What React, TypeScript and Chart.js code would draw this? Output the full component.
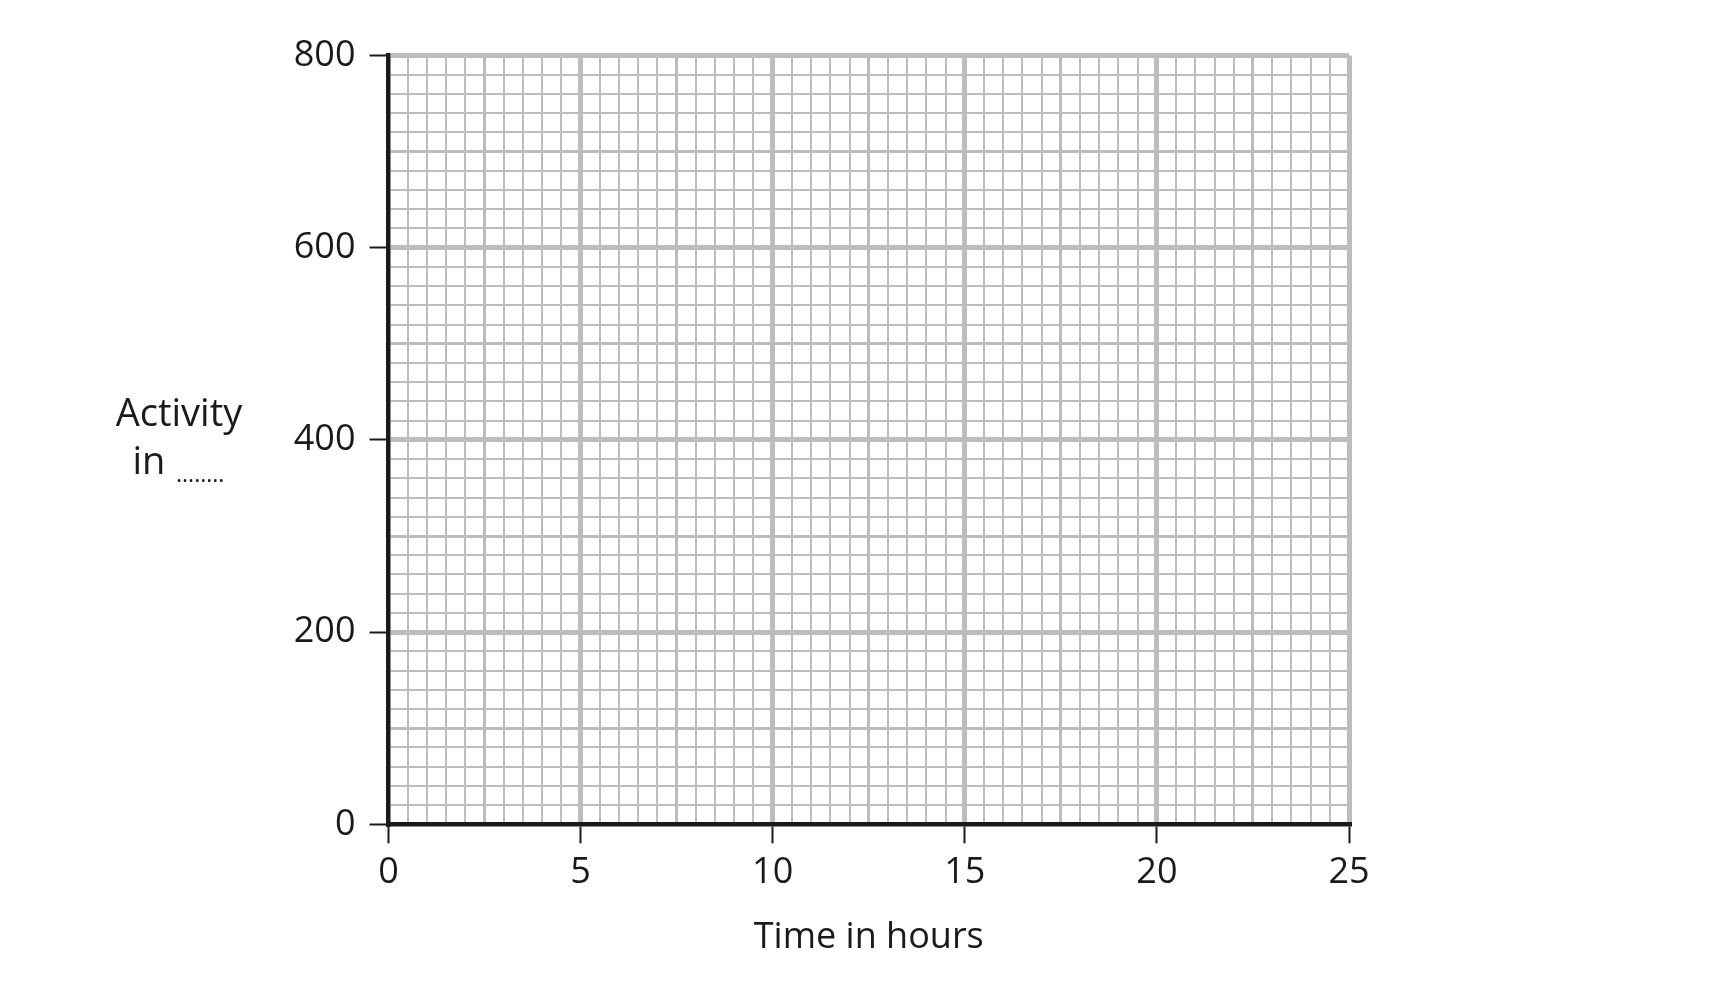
import React, { useEffect, useRef } from "react";
import { Chart, registerables } from "chart.js";

Chart.register(...registerables);

// ---- data / axis definitions ----
const X_MIN = 0;
const X_MAX = 25;
const X_MINOR_STEP = 0.5;
const X_MEDIUM_EVERY = 2.5;
const X_LABEL_EVERY = 5;

const Y_MIN = 0;
const Y_MAX = 800;
const Y_MINOR_STEP = 20;
const Y_MEDIUM_EVERY = 100;
const Y_LABEL_EVERY = 200;

const X_TITLE = "Time in hours";
const Y_TITLE_LINES = ["Activity", "in"];
const Y_TITLE_BLANK = "........";

// no plotted series: blank graph paper
const SERIES_POINTS: { x: number; y: number }[] = [];

// ---- styles ----
const FONT = "'Open Sans', 'Noto Sans', sans-serif";
const INK = "#1a1a1a";
const GRID = "#bdbdbd";

const isMult = (v: number, m: number) => Math.abs(v / m - Math.round(v / m)) < 1e-6;

const yTitlePlugin = {
  id: "yTitleHorizontal",
  afterDraw(chart: any) {
    const { ctx, chartArea, scales } = chart;
    const mid = scales.y.getPixelForValue(400);
    ctx.save();
    ctx.fillStyle = INK;
    ctx.textBaseline = "alphabetic";
    ctx.font = `38px ${FONT}`;
    ctx.textAlign = "center";
    ctx.fillText(Y_TITLE_LINES[0], chartArea.left - 209.5, mid - 14);
    ctx.textAlign = "left";
    ctx.fillText(Y_TITLE_LINES[1], chartArea.left - 256, mid + 34);
    ctx.font = `23px ${FONT}`;
    ctx.fillText(Y_TITLE_BLANK, chartArea.left - 212.5, mid + 42);
    ctx.restore();
  },
};

export default function App() {
  const canvasRef = useRef<HTMLCanvasElement | null>(null);

  useEffect(() => {
    const canvas = canvasRef.current;
    if (!canvas) return;
    const chart = new Chart(canvas, {
      type: "scatter",
      data: {
        datasets: [
          {
            data: SERIES_POINTS,
            pointRadius: 0,
            borderColor: INK,
            backgroundColor: INK,
          },
        ],
      },
      plugins: [yTitlePlugin],
      options: {
        animation: false,
        responsive: false,
        maintainAspectRatio: false,
        events: [],
        layout: { padding: { left: 0, top: 55.5, right: 379, bottom: 0 } },
        plugins: {
          legend: { display: false },
          tooltip: { enabled: false },
          title: { display: false },
        },
        scales: {
          x: {
            type: "linear",
            position: "bottom",
            min: X_MIN,
            max: X_MAX,
            afterFit: (s: any) => {
              s.height = 163.7;
            },
            ticks: {
              stepSize: X_MINOR_STEP,
              autoSkip: false,
              maxRotation: 0,
              minRotation: 0,
              padding: 8,
              color: INK,
              font: { family: FONT, size: 36 },
              callback: (v: any) => (isMult(Number(v), X_LABEL_EVERY) ? String(v) : ""),
            },
            grid: {
              color: (c: any) => (c.tick && c.tick.value === X_MIN ? "transparent" : GRID),
              lineWidth: (c: any) => {
                const v = c.tick ? c.tick.value : 0;
                if (isMult(v, X_LABEL_EVERY)) return 5;
                if (isMult(v, X_MEDIUM_EVERY)) return 3;
                return 2;
              },
              tickLength: 19,
              tickWidth: 2,
              tickColor: (c: any) => (c.tick && isMult(c.tick.value, X_LABEL_EVERY) ? INK : "transparent"),
            },
            border: { display: true, color: INK, width: 4.5 },
            title: {
              display: true,
              text: X_TITLE,
              color: INK,
              font: { family: FONT, size: 36 },
              padding: { top: 0, bottom: 29 },
            },
          },
          y: {
            type: "linear",
            position: "left",
            min: Y_MIN,
            max: Y_MAX,
            afterFit: (s: any) => {
              s.width = 388.5;
            },
            ticks: {
              stepSize: Y_MINOR_STEP,
              autoSkip: false,
              padding: 14,
              color: INK,
              font: { family: FONT, size: 36 },
              callback: (v: any) => (isMult(Number(v), Y_LABEL_EVERY) ? String(v) : ""),
            },
            grid: {
              color: (c: any) => (c.tick && c.tick.value === Y_MIN ? "transparent" : GRID),
              lineWidth: (c: any) => {
                const v = c.tick ? c.tick.value : 0;
                if (isMult(v, Y_LABEL_EVERY)) return 5;
                if (isMult(v, Y_MEDIUM_EVERY)) return 3;
                return 2;
              },
              tickLength: 19,
              tickWidth: 2,
              tickColor: (c: any) => (c.tick && isMult(c.tick.value, Y_LABEL_EVERY) ? INK : "transparent"),
            },
            border: { display: true, color: INK, width: 4.5 },
            title: { display: false },
          },
        },
      },
    } as any);
    return () => chart.destroy();
  }, []);

  return (
    <div
      style={{
        position: "fixed",
        left: 0,
        top: 0,
        width: 1728,
        height: 988,
        background: "#ffffff",
      }}
    >
      <canvas ref={canvasRef} width={1728} height={988} style={{ display: "block" }} />
    </div>
  );
}
